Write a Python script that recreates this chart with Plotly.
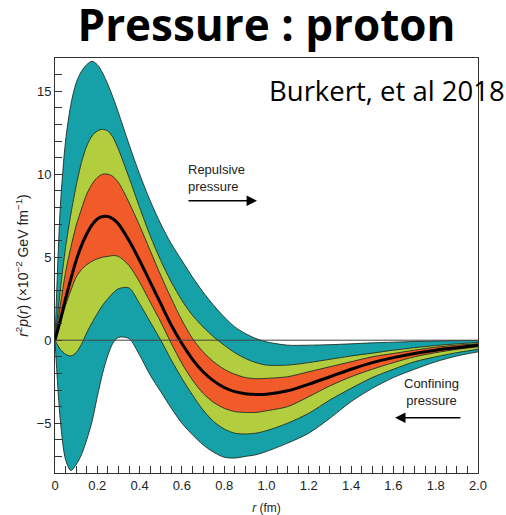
import plotly.graph_objects as go

# radius grid (fm)
r = [0, 0.025, 0.05, 0.075, 0.1, 0.125, 0.15, 0.175, 0.2, 0.225, 0.25, 0.275, 0.3,
     0.35, 0.4, 0.45, 0.5, 0.55, 0.6, 0.65, 0.7, 0.75, 0.8, 0.85, 0.9, 0.95, 1.0,
     1.1, 1.2, 1.3, 1.4, 1.5, 1.6, 1.7, 1.8, 1.9, 2.0]

central = [0, 1.2, 2.5, 3.7, 4.8, 5.7, 6.4, 6.95, 7.3, 7.45, 7.45, 7.3, 7.0,
           6.0, 4.8, 3.5, 2.2, 0.9, -0.2, -1.15, -1.9, -2.45, -2.85, -3.1, -3.22, -3.27, -3.25,
           -3.05, -2.65, -2.2, -1.75, -1.35, -1.05, -0.8, -0.6, -0.45, -0.3]

orange_up = [0, 2.1, 4.1, 5.6, 6.9, 7.9, 8.8, 9.4, 9.8, 10.0, 10.0, 9.85, 9.5,
             8.3, 6.9, 5.4, 3.9, 2.5, 1.2, 0.1, -0.7, -1.3, -1.75, -2.05, -2.25, -2.32, -2.3,
             -2.2, -1.9, -1.6, -1.3, -1.0, -0.8, -0.6, -0.42, -0.3, -0.22]

orange_lo = [0, 1.0, 2.1, 3.0, 3.8, 4.25, 4.55, 4.75, 4.9, 5.0, 5.05, 5.1, 5.05,
             4.5, 3.5, 2.3, 1.1, -0.2, -1.4, -2.4, -3.2, -3.75, -4.1, -4.3, -4.35, -4.35, -4.25,
             -4.0, -3.4, -2.75, -2.2, -1.75, -1.35, -1.0, -0.75, -0.55, -0.4]

green_up = [0, 3.0, 5.6, 7.6, 9.3, 10.7, 11.7, 12.3, 12.6, 12.7, 12.6, 12.2, 11.5,
            9.8, 8.0, 6.3, 4.8, 3.5, 2.4, 1.5, 0.8, 0.2, -0.3, -0.75, -1.1, -1.35, -1.5,
            -1.5, -1.35, -1.15, -0.95, -0.78, -0.6, -0.45, -0.32, -0.22, -0.14]

green_lo = [0, -0.55, -0.85, -0.95, -0.75, -0.25, 0.45, 1.05, 1.6, 2.1, 2.5, 2.85, 3.1,
            3.15, 2.2, 1.1, 0.0, -1.2, -2.3, -3.3, -4.2, -4.9, -5.35, -5.6, -5.65, -5.6, -5.45,
            -5.0, -4.4, -3.6, -2.9, -2.25, -1.75, -1.3, -1.0, -0.75, -0.55]

teal_up = [0, 8.0, 12.0, 14.2, 15.5, 16.2, 16.6, 16.8, 16.6, 16.1, 15.4, 14.6, 13.7,
           11.8, 10.0, 8.4, 7.0, 5.8, 4.8, 3.8, 2.9, 2.1, 1.4, 0.8, 0.4, 0.1, -0.1,
           -0.3, -0.3, -0.27, -0.22, -0.16, -0.12, -0.08, -0.05, -0.03, -0.02]

teal_lo = [0, -4.8, -7.2, -7.85, -7.5, -6.9, -6.0, -4.9, -3.4, -2.0, -0.9, -0.15, 0.17,
           0.1, -0.9, -2.1, -3.1, -4.1, -5.0, -5.7, -6.3, -6.75, -7.05, -7.1, -7.0, -6.9, -6.7,
           -6.2, -5.6, -4.7, -3.7, -2.9, -2.25, -1.75, -1.3, -0.95, -0.7]

x_ticks = [0, 0.2, 0.4, 0.6, 0.8, 1.0, 1.2, 1.4, 1.6, 1.8, 2.0]
x_tick_labels = ["0", "0.2", "0.4", "0.6", "0.8", "1.0", "1.2", "1.4", "1.6", "1.8", "2.0"]
y_ticks = [-5, 0, 5, 10, 15]
y_tick_labels = ["\u22125", "0", "5", "10", "15"]

TEAL = "#16a1a9"
GREEN = "#b2cd3e"
ORANGE = "#f15a29"
EDGE = "#1f2f25"

fig = go.Figure()

def band(lo, up, color):
    fig.add_trace(go.Scatter(x=r, y=lo, mode="lines", line=dict(color=EDGE, width=0.9, shape="spline", smoothing=0.8),
                             hoverinfo="skip", showlegend=False))
    fig.add_trace(go.Scatter(x=r, y=up, mode="lines", fill="tonexty", fillcolor=color,
                             line=dict(color=EDGE, width=0.9, shape="spline", smoothing=0.8),
                             hoverinfo="skip", showlegend=False))

band(teal_lo, teal_up, TEAL)
band(green_lo, green_up, GREEN)
band(orange_lo, orange_up, ORANGE)

fig.add_trace(go.Scatter(x=r, y=central, mode="lines",
                         line=dict(color="black", width=3, shape="spline", smoothing=0.8),
                         hoverinfo="skip", showlegend=False))

axis_font = dict(family="Liberation Sans, Arial, sans-serif", size=13, color="#222")

fig.update_xaxes(range=[0, 2.0], tickvals=x_ticks, ticktext=x_tick_labels, automargin=False,
                 ticks="inside", ticklen=7, tickcolor="#333", tickwidth=1,
                 minor=dict(dtick=0.05, ticks="inside", ticklen=7, tickcolor="#333", tickwidth=1),
                 showline=True, linecolor="#333", linewidth=1, mirror=True,
                 showgrid=False, zeroline=False, tickfont=axis_font,
                 title=dict(text="<i>r</i> (fm)", font=dict(family="Liberation Sans, Arial, sans-serif", size=12, color="#222"), standoff=12))
fig.update_yaxes(range=[-8, 17], tickvals=y_ticks, ticktext=y_tick_labels, automargin=False,
                 ticks="inside", ticklen=7, tickcolor="#333", tickwidth=1,
                 minor=dict(dtick=1, ticks="inside", ticklen=7, tickcolor="#333", tickwidth=1),
                 showline=True, linecolor="#333", linewidth=1, mirror=True,
                 showgrid=False, zeroline=False, tickfont=axis_font,
                 title=dict(text="<i>r</i><sup>2</sup><i>p</i>(<i>r</i>) (\u00d710<sup>\u22122</sup> GeV fm<sup>\u22121</sup>)",
                            font=dict(family="Liberation Sans, Arial, sans-serif", size=14, color="#222"), standoff=4))

fig.add_shape(type="line", xref="paper", x0=0, x1=1, yref="y", y0=0, y1=0,
              line=dict(color="#444", width=1), layer="above")

fig.add_annotation(x=0.955, y=8.4, ax=0.624, ay=8.4, xref="x", yref="y", axref="x", ayref="y",
                   text="", showarrow=True, arrowhead=2, arrowsize=1.3, arrowwidth=1.6, arrowcolor="black")
fig.add_annotation(x=1.608, y=-4.67, ax=1.924, ay=-4.67, xref="x", yref="y", axref="x", ayref="y",
                   text="", showarrow=True, arrowhead=2, arrowsize=1.3, arrowwidth=1.6, arrowcolor="black")
fig.add_annotation(x=0.62, y=9.8, xref="x", yref="y", text="Repulsive<br>pressure", showarrow=False,
                   xanchor="left", yanchor="middle", align="left",
                   font=dict(family="Liberation Sans, Arial, sans-serif", size=13, color="#222"))
fig.add_annotation(x=1.78, y=-3.1, xref="x", yref="y", text="Confining<br>pressure", showarrow=False,
                   xanchor="center", yanchor="middle", align="center",
                   font=dict(family="Liberation Sans, Arial, sans-serif", size=13, color="#222"))
fig.add_annotation(x=1.0, y=1.0, xref="paper", yref="paper", text="Burkert, et al 2018", showarrow=False,
                   xanchor="right", yanchor="top", xshift=29, yshift=-12,
                   font=dict(family="Open Sans, sans-serif", size=27.5, color="black"))

fig.update_layout(
    width=506, height=515,
    margin=dict(l=55, r=28, t=58, b=42),
    paper_bgcolor="white", plot_bgcolor="white",
    title=dict(text="<b>Pressure : proton</b>", x=0.5, xanchor="center", xref="paper",
               y=0.98, yanchor="top", yref="container", pad=dict(t=0, b=0),
               font=dict(family="Open Sans, sans-serif", size=44, color="black")),
    showlegend=False,
)

fig.write_html("out.html")
